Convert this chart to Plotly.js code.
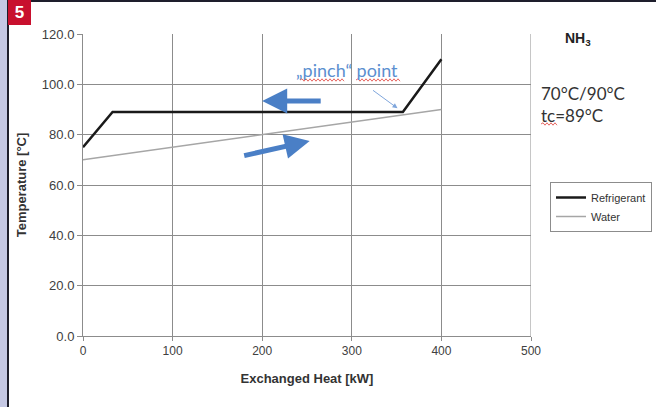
<!DOCTYPE html>
<html><head><meta charset="utf-8">
<script src="https://cdn.plot.ly/plotly-3.0.1.min.js"></script>
<style>
html,body{margin:0;padding:0;background:#fff;}
#wrap{position:relative;width:656px;height:407px;overflow:hidden;}
#chart{position:absolute;left:0;top:0;width:656px;height:407px;}
.ov{position:absolute;pointer-events:none;}
#strip{left:0;top:0;width:7px;height:407px;background:#c5c8e4;}
#vline{left:7px;top:0;width:2px;height:407px;background:#1e1e2c;}
#hline{left:7px;top:0;width:649px;height:2px;background:#1e1e2c;}
#badge{left:8px;top:0;width:23px;height:25px;background:#c8102e;color:#fff;
  font:bold 17px "Liberation Sans",Arial,sans-serif;line-height:25px;text-align:center;}
</style>
</head><body><div id="wrap"><div id="chart"></div>
<div class="ov" id="strip"></div><div class="ov" id="vline"></div><div class="ov" id="hline"></div>
<div class="ov" id="badge">5</div></div>
<script>
// Data
const refrigerantHeat = [0, 33, 357, 400];
const refrigerantTemp = [75, 89, 89, 110];
const waterHeat = [0, 400];
const waterTemp = [70, 90];
const xTicks = [0, 100, 200, 300, 400, 500];
const yTicks = [0, 20, 40, 60, 80, 100, 120];

// plot area in pixels
const L = 83, R = 531, T = 34, B = 336;
const dx = p => (p - L) / (R - L) * 500;   // pixel -> data x
const dy = p => (B - p) / (B - T) * 120;   // pixel -> data y
const px = p => (p - L) / (R - L);         // pixel -> paper x

function zigzag(x0, x1, y) {
  let d = 'M' + px(x0) + ',' + dy(y);
  let up = true;
  for (let x = x0 + 2; x <= x1; x += 2) {
    d += ' L' + px(x) + ',' + dy(y + (up ? -1.2 : 1.2));
    up = !up;
  }
  return d;
}

const traces = [
  {x: refrigerantHeat, y: refrigerantTemp, name: 'Refrigerant', mode: 'lines',
   line: {color: '#1a1a1a', width: 2.5}},
  {x: waterHeat, y: waterTemp, name: 'Water', mode: 'lines',
   line: {color: '#a6a6a6', width: 1.5}}
];

const blue = '#4a7fc6';
const red = '#e0403a';
const layout = {
  width: 656, height: 407,
  margin: {l: L, r: 656 - R, t: T, b: 407 - B, pad: 0, autoexpand: false},
  paper_bgcolor: '#ffffff', plot_bgcolor: '#ffffff',
  font: {family: '"Liberation Sans", Arial, sans-serif', size: 12, color: '#404040'},
  showlegend: true,
  legend: {x: px(550), y: (B - 182) / (B - T),
    xanchor: 'left', yanchor: 'top',
    bordercolor: '#8c8c8c', borderwidth: 1, bgcolor: '#ffffff',
    font: {size: 11, color: '#333'}, tracegroupgap: 0, itemwidth: 30},
  xaxis: {range: [0, 500], tickvals: xTicks, ticktext: xTicks.map(String),
    showgrid: true, gridcolor: '#8c8c8c', gridwidth: 1,
    showline: true, linecolor: '#8c8c8c', linewidth: 1,
    ticks: 'outside', ticklen: 4, tickcolor: '#8c8c8c', zeroline: false,
    tickfont: {size: 12, color: '#404040'}, automargin: true,
    title: {text: 'Exchanged Heat [kW]', font: {size: 13, color: '#333', weight: 'bold'}, standoff: 16}},
  yaxis: {range: [0, 120], tickvals: yTicks, ticktext: yTicks.map(v => v.toFixed(1)),
    showgrid: true, gridcolor: '#8c8c8c', gridwidth: 1,
    showline: true, linecolor: '#8c8c8c', linewidth: 1,
    ticks: 'outside', ticklen: 5, tickcolor: '#8c8c8c', zeroline: false,
    tickfont: {size: 13, color: '#404040'}, automargin: true,
    title: {text: 'Temperature [°C]', font: {size: 13, color: '#333', weight: 'bold'}, standoff: 12}},
  shapes: [
    {type: 'line', xref: 'x', yref: 'paper', x0: 500, x1: 500, y0: 0, y1: 1, line: {color: '#8c8c8c', width: 1}},
    {type: 'path', xref: 'paper', yref: 'y', path: zigzag(300, 344, 80), line: {color: red, width: 0.8}},
    {type: 'path', xref: 'paper', yref: 'y', path: zigzag(356, 400, 80), line: {color: red, width: 0.8}},
    {type: 'path', xref: 'paper', yref: 'y', path: zigzag(541, 557, 124), line: {color: red, width: 0.8}}
  ],
  annotations: [
    {xref: 'paper', yref: 'y', x: px(563), y: dy(39), xanchor: 'left', text: '<b>NH<sub>3</sub></b>', showarrow: false,
     font: {size: 14, color: '#222'}},
    {xref: 'paper', yref: 'y', x: px(539), y: dy(93), xanchor: 'left', text: '70°C/90°C', showarrow: false,
     font: {family: 'Lato, "Open Sans", sans-serif', size: 17, color: '#333'}},
    {xref: 'paper', yref: 'y', x: px(539), y: dy(115), xanchor: 'left', text: 'tc=89°C', showarrow: false,
     font: {family: 'Lato, "Open Sans", sans-serif', size: 17, color: '#333'}},
    {xref: 'x', yref: 'y', x: dx(347), y: dy(70), text: '„pinch“ point', showarrow: false,
     font: {family: 'Lato, "Open Sans", sans-serif', size: 18, color: '#5b8fd0'}},
    {xref: 'x', yref: 'y', x: 200, y: 93.4, ax: 60, ay: 0, text: '', showarrow: true,
     arrowhead: 2, arrowsize: 1, arrowwidth: 5, arrowcolor: blue},
    {xref: 'x', yref: 'y', x: 253, y: 77.5, ax: -67, ay: 15, text: '', showarrow: true,
     arrowhead: 2, arrowsize: 1, arrowwidth: 5, arrowcolor: blue},
    {xref: 'x', yref: 'y', x: 351, y: 90.5, ax: -26, ay: -19, text: '', showarrow: true,
     arrowhead: 2, arrowsize: 1, arrowwidth: 1, arrowcolor: '#7fa6dc'}
  ]
};

Plotly.newPlot('chart', traces, layout, {displayModeBar: false, staticPlot: true});
</script></body></html>
